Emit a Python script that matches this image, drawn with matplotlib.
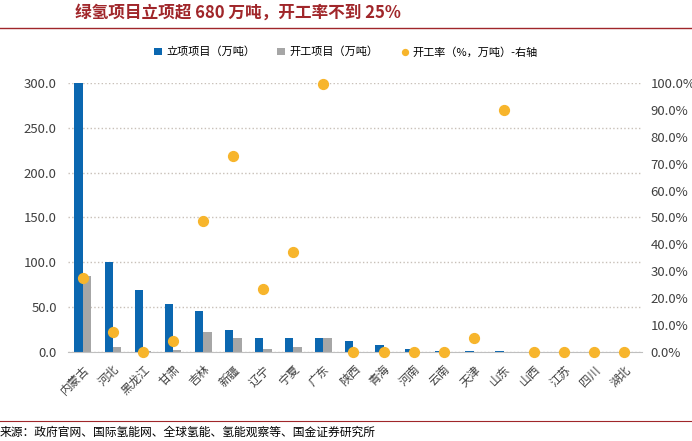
import matplotlib
matplotlib.use("Agg")
import matplotlib.pyplot as plt
import numpy as np
from matplotlib.ticker import FuncFormatter

plt.rcParams['font.family'] = ['Noto Sans CJK SC']

provinces = ["内蒙古","河北","黑龙江","甘肃","吉林","新疆","辽宁","宁夏","广东","陕西","青海","河南","云南","天津","山东","山西","江苏","四川","湖北"]
approved = [301,100,69,53,46,24,16,16,15,12,7.5,3,0.5,0.5,0.5,0.3,0.3,0.3,0.3]
started = [85,6,0.5,2,22,16,3.5,5,15,0,0,0,0,0.3,0.45,0,0,0,0]
rate = [27.5,7.5,0,4,48.5,73,23.5,37,99.5,0,0,0,0,5,90,0,0,0,0]

fig = plt.figure(figsize=(6.92,4.41), dpi=100)
fig.text(0.108, 0.972, "绿氢项目立项超 680 万吨，开工率不到 25%", color="#A0262A",
         fontsize=12, fontweight="bold", style="italic", va="center")
fig.add_artist(plt.Line2D([0.0,1.0],[0.937,0.937], color="#A0262A", lw=1))
fig.add_artist(plt.Line2D([0.0,1.0],[0.045,0.045], color="#A0262A", lw=0.8))
fig.text(0.0, 0.02, "来源：政府官网、国际氢能网、全球氢能、氢能观察等、国金证券研究所", fontsize=8.5, va="center")

ax = fig.add_axes([0.098, 0.202, 0.83, 0.61])
x = np.arange(len(provinces))
w = 0.28
ax.bar(x-w/2, approved, w, color="#0B67B0", label="立项项目（万吨）")
ax.bar(x+w/2, started, w, color="#A6A6A6", label="开工项目（万吨）")
ax.set_ylim(0,300)
ax.set_yticks(np.arange(0,301,50))
ax.yaxis.set_major_formatter(FuncFormatter(lambda v,p: f"{v:.1f}"))
ax.set_xlim(-0.5, len(provinces)-0.4)
ax.set_xticks(x)
ax.set_xticklabels(provinces, rotation=45, ha="right", rotation_mode="anchor", fontsize=8.5, color="#404040")
ax.grid(axis="y", color="#C8C0B8", ls=":", lw=1)
ax.set_axisbelow(True)
for s in ["top","right","left"]:
    ax.spines[s].set_visible(False)
ax.spines["bottom"].set_color("#BFBFBF")
ax.tick_params(axis="y", length=0, labelsize=9.5, colors="#404040", pad=8)
ax.tick_params(axis="x", length=0, labelsize=8.5, colors="#404040", pad=8)

ax2 = ax.twinx()
ax2.scatter(x, rate, s=50, color="#F7B52C", zorder=5, label="开工率（%，万吨）-右轴", clip_on=False)
ax2.set_ylim(0,100)
ax2.set_yticks(np.arange(0,101,10))
ax2.yaxis.set_major_formatter(FuncFormatter(lambda v,p: f"{v:.1f}%"))
ax2.tick_params(length=0, labelsize=9.5, colors="#404040", pad=6)
for s in ["top","right","left","bottom"]:
    ax2.spines[s].set_visible(False)

h1,l1 = ax.get_legend_handles_labels()
h2,l2 = ax2.get_legend_handles_labels()
fig.legend(h1+h2, l1+l2, loc="center", bbox_to_anchor=(0.5,0.882), ncol=3, frameon=False,
           fontsize=8, handlelength=0.7, handletextpad=0.4, columnspacing=2.0, markerscale=0.6)
fig.savefig("out.png", dpi=100)
